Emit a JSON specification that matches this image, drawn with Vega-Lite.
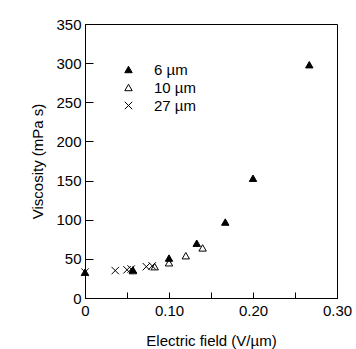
{
  "$schema": "https://vega.github.io/schema/vega-lite/v6.json",
  "width": 252,
  "height": 274,
  "autosize": {"type": "none"},
  "padding": {"left": 85, "top": 24, "right": 19, "bottom": 51},
  "background": "white",
  "config": {
    "font": "Liberation Sans",
    "view": {"stroke": "black", "strokeWidth": 1},
    "axis": {"domainColor": "black", "tickColor": "black", "labelColor": "black", "titleColor": "black", "grid": false, "labelFontSize": 15, "titleFontSize": 15, "titleFontWeight": "normal"},
    "legend": {"labelFontSize": 15, "labelFontWeight": "normal", "symbolSize": 55, "rowPadding": 2, "labelOffset": 18, "padding": 0}
  },
  "data": {
    "values": [
      {"E": 0, "V": 33, "s": "\u20076 µm"},
      {"E": 0.057, "V": 36, "s": "\u20076 µm"},
      {"E": 0.10, "V": 51, "s": "\u20076 µm"},
      {"E": 0.133, "V": 70, "s": "\u20076 µm"},
      {"E": 0.167, "V": 97, "s": "\u20076 µm"},
      {"E": 0.20, "V": 153, "s": "\u20076 µm"},
      {"E": 0.267, "V": 298, "s": "\u20076 µm"},
      {"E": 0.057, "V": 35, "s": "10 µm"},
      {"E": 0.083, "V": 40, "s": "10 µm"},
      {"E": 0.10, "V": 45, "s": "10 µm"},
      {"E": 0.12, "V": 54, "s": "10 µm"},
      {"E": 0.14, "V": 64, "s": "10 µm"},
      {"E": 0, "V": 33, "s": "27 µm"},
      {"E": 0.036, "V": 35, "s": "27 µm"},
      {"E": 0.05, "V": 36, "s": "27 µm"},
      {"E": 0.055, "V": 37, "s": "27 µm"},
      {"E": 0.073, "V": 40, "s": "27 µm"},
      {"E": 0.08, "V": 41, "s": "27 µm"}
    ]
  },
  "mark": {"type": "point", "stroke": "black", "strokeWidth": 1, "size": 55, "opacity": 1, "clip": false},
  "encoding": {
    "x": {
      "field": "E", "type": "quantitative",
      "scale": {"domain": [0, 0.3], "nice": false, "zero": false},
      "axis": {
        "title": "Electric field (V/µm)",
        "values": [0, 0.05, 0.1, 0.15, 0.2, 0.25, 0.3],
        "labelExpr": "datum.value == 0 ? '0' : (round(datum.value*100) % 10 == 0 ? format(datum.value, '.2f') : '')",
        "tickSize": -6,
        "labelPadding": 11,
        "titlePadding": 15,
        "labelFlush": false
      }
    },
    "y": {
      "field": "V", "type": "quantitative",
      "scale": {"domain": [0, 350], "nice": false},
      "axis": {
        "title": "Viscosity (mPa s)",
        "values": [0, 50, 100, 150, 200, 250, 300, 350],
        "tickSize": -8,
        "labelPadding": 12,
        "titlePadding": 10,
        "labelFlush": false
      }
    },
    "shape": {
      "field": "s", "type": "nominal", "sort": ["\u20076 µm", "10 µm", "27 µm"],
      "scale": {"range": ["triangle-up", "triangle-up", "M-1,-1L1,1M1,-1L-1,1"]},
      "legend": {
        "title": null, "orient": "none", "legendX": 36, "legendY": 38,
        "labelColor": "black", "symbolStrokeColor": "black", "symbolStrokeWidth": 1, "symbolFillColor": "transparent"
      }
    },
    "fill": {
      "field": "s", "type": "nominal", "sort": ["\u20076 µm", "10 µm", "27 µm"],
      "scale": {"range": ["black", "transparent", "transparent"]},
      "legend": {
        "title": null, "orient": "none", "legendX": 36, "legendY": 38,
        "labelColor": "transparent", "symbolType": "triangle-up", "symbolStrokeColor": "transparent", "symbolStrokeWidth": 0
      }
    }
  }
}
